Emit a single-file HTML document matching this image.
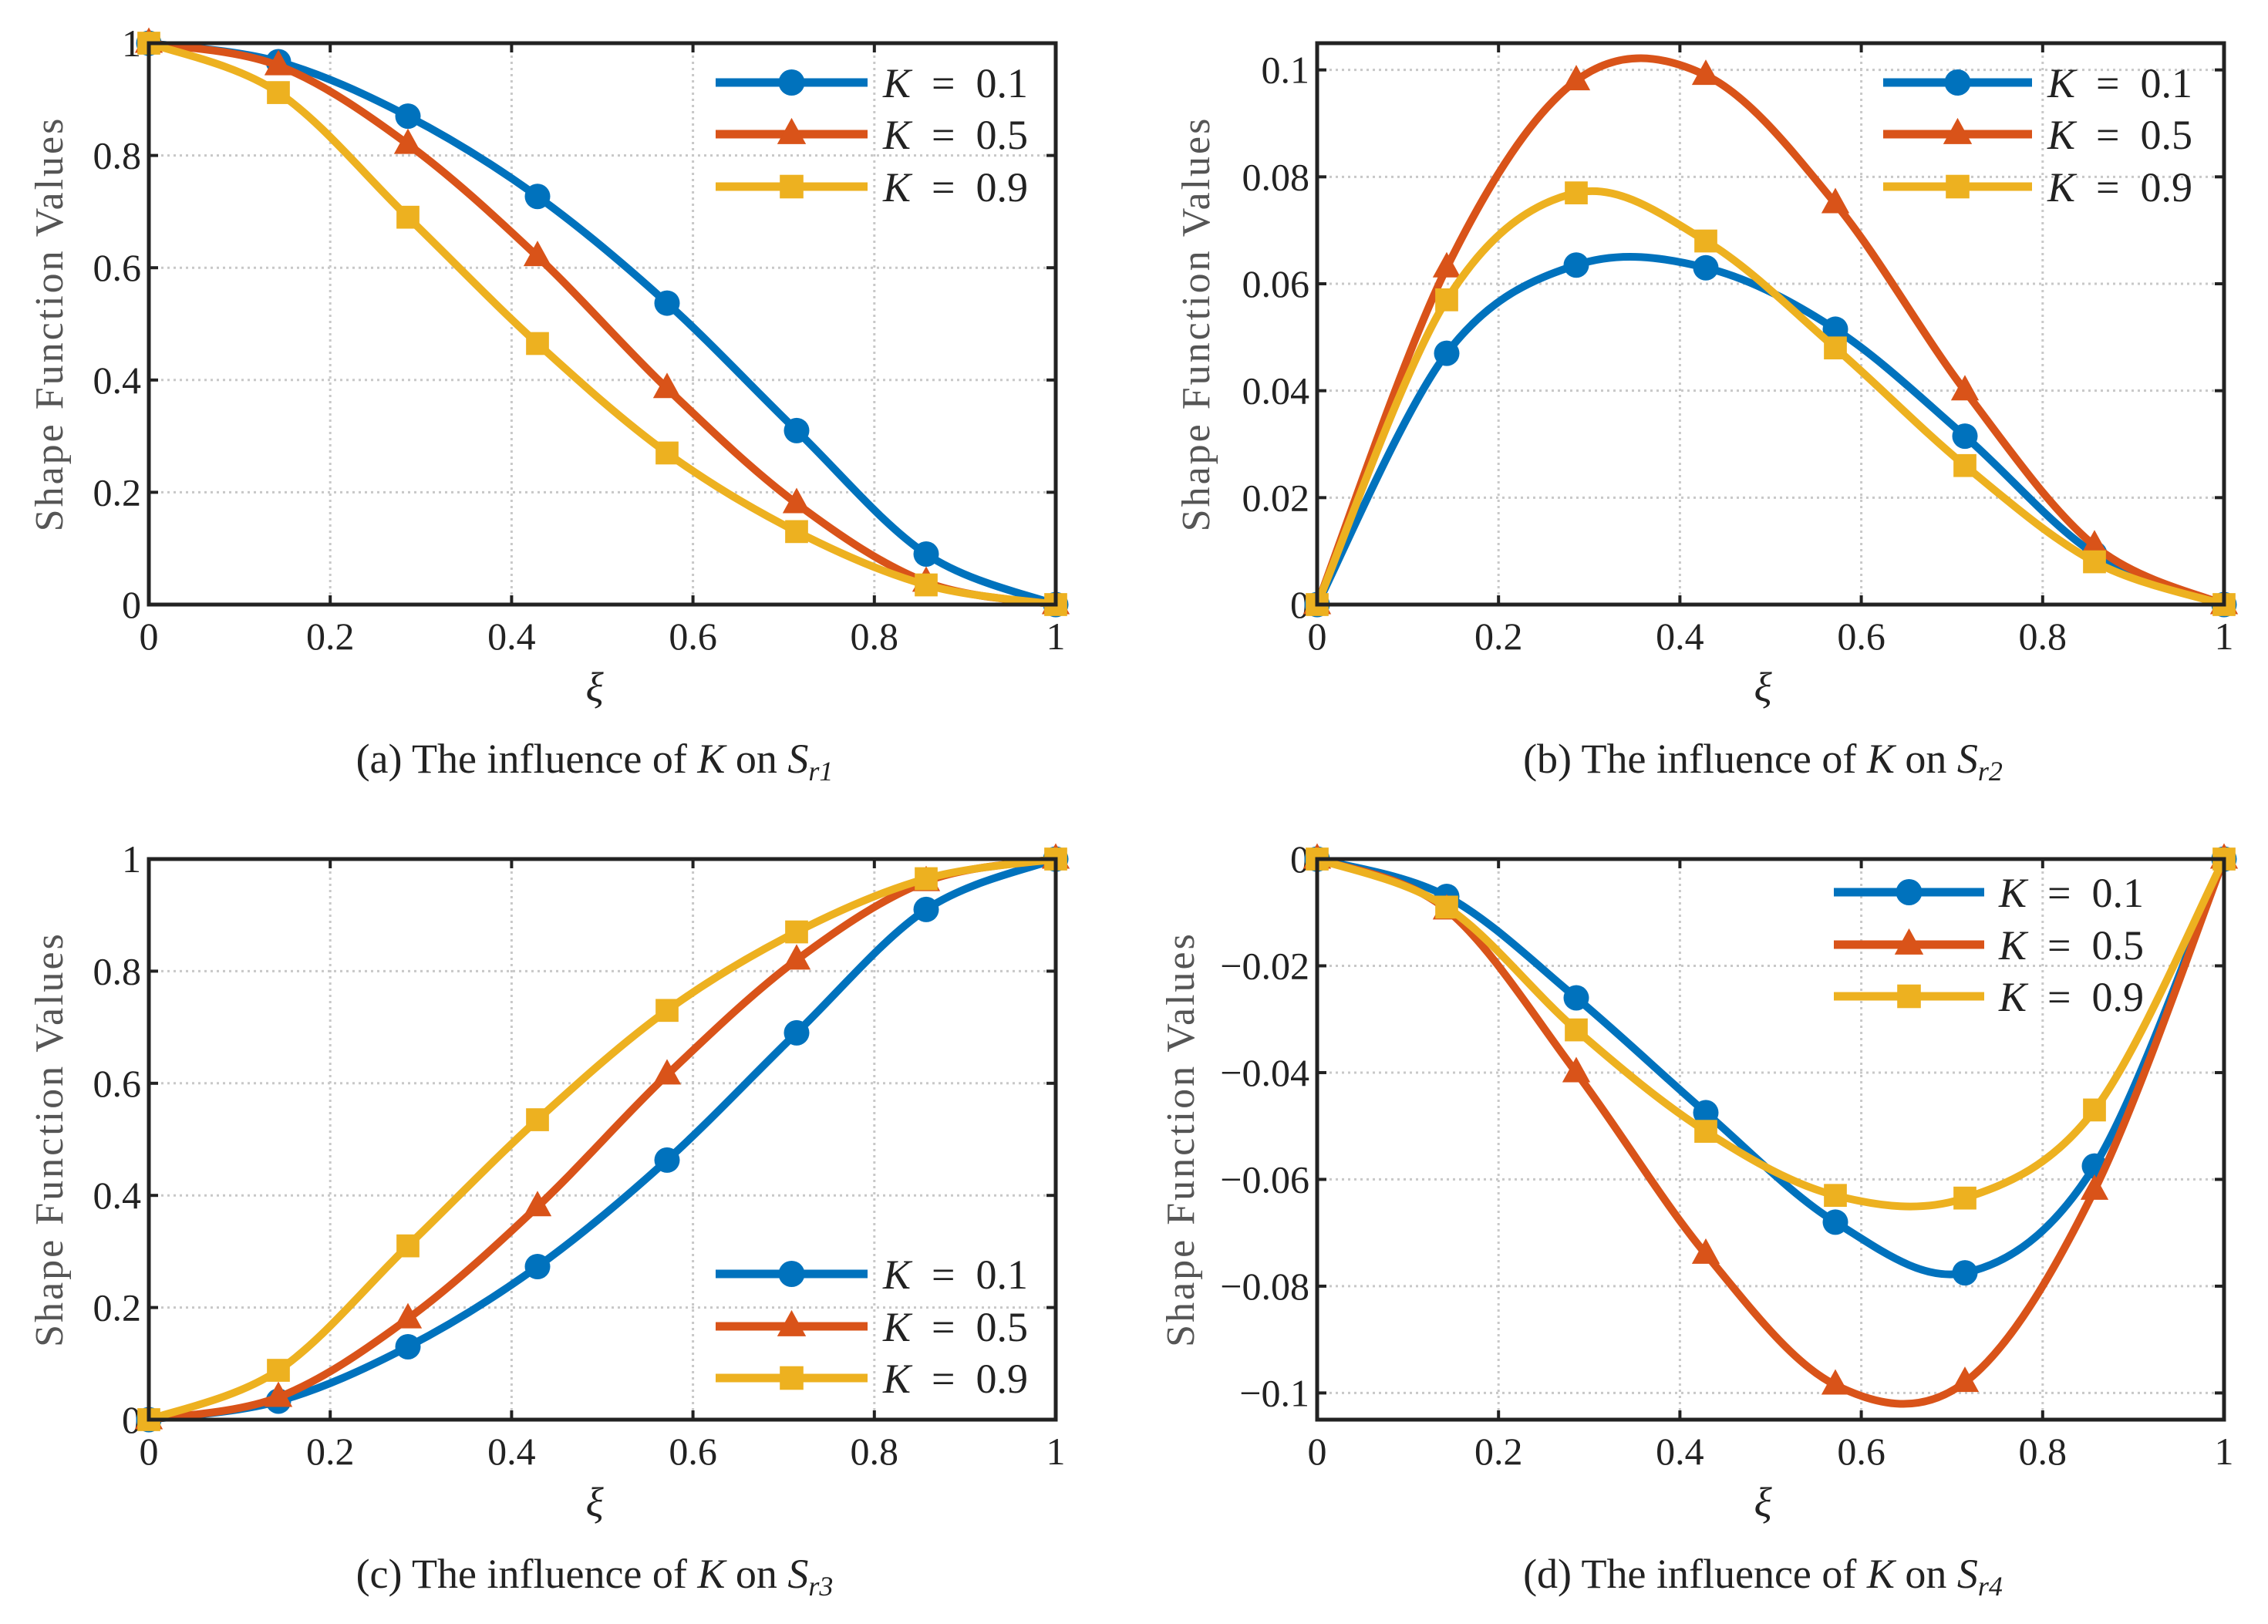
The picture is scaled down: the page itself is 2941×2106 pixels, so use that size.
<!DOCTYPE html>
<html><head><meta charset="utf-8"><style>
html,body{margin:0;padding:0;background:#fff;}
svg{display:block;}
text{font-family:"Liberation Serif","DejaVu Serif",serif;fill:#222;}
</style></head><body>
<svg id="fig" width="2941" height="2106" viewBox="0 0 2941 2106" xmlns="http://www.w3.org/2000/svg"></svg>
<script>
const xValues = [0, 1/7, 2/7, 3/7, 4/7, 5/7, 6/7, 1];
const seriesLabels = ["0.1", "0.5", "0.9"];
const a_k01 = [1, 0.967, 0.87, 0.727, 0.537, 0.31, 0.09, 0];
const a_k05 = [1, 0.96, 0.82, 0.62, 0.385, 0.18, 0.04, 0];
const a_k09 = [1, 0.912, 0.69, 0.465, 0.27, 0.13, 0.035, 0];
const b_k01 = [0, 0.047, 0.0635, 0.063, 0.0515, 0.0315, 0.0095, 0];
const b_k05 = [0, 0.063, 0.098, 0.099, 0.075, 0.040, 0.011, 0];
const b_k09 = [0, 0.057, 0.077, 0.068, 0.048, 0.026, 0.008, 0];
const c_k01 = [0, 0.033, 0.13, 0.273, 0.463, 0.69, 0.91, 1];
const c_k05 = [0, 0.04, 0.18, 0.38, 0.615, 0.82, 0.96, 1];
const c_k09 = [0, 0.088, 0.31, 0.535, 0.73, 0.87, 0.965, 1];
const d_k01 = [0, -0.007, -0.026, -0.0475, -0.068, -0.0775, -0.0575, 0];
const d_k05 = [0, -0.0095, -0.040, -0.074, -0.0985, -0.098, -0.062, 0];
const d_k09 = [0, -0.009, -0.032, -0.051, -0.063, -0.0635, -0.047, 0];
const xTicks = [0, 0.2, 0.4, 0.6, 0.8, 1];
const xTickLabels = ["0", "0.2", "0.4", "0.6", "0.8", "1"];
const ticks01 = [0, 0.2, 0.4, 0.6, 0.8, 1];
const labels01 = ["0", "0.2", "0.4", "0.6", "0.8", "1"];
const ticksB = [0, 0.02, 0.04, 0.06, 0.08, 0.1];
const labelsB = ["0", "0.02", "0.04", "0.06", "0.08", "0.1"];
const ticksD = [0, -0.02, -0.04, -0.06, -0.08, -0.1];
const labelsD = ["0", "\u22120.02", "\u22120.04", "\u22120.06", "\u22120.08", "\u22120.1"];

const NS = "http://www.w3.org/2000/svg";
const svg = document.getElementById("fig");
const colors = ["#0072BD", "#D95319", "#EDB120"];
const markers = ["circle", "triangle", "square"];
function mk(tag, attrs, parent) {
  const e = document.createElementNS(NS, tag);
  for (const k in attrs) e.setAttribute(k, attrs[k]);
  (parent || svg).appendChild(e);
  return e;
}
function marker(g, type, x, y, color, s) {
  let e;
  if (type === "circle") e = mk("circle", {cx: x, cy: y, r: s * 0.5, fill: color}, g);
  else if (type === "triangle") e = mk("polygon", {points: `${x},${y - s * 0.62} ${x - s * 0.55},${y + s * 0.38} ${x + s * 0.55},${y + s * 0.38}`, fill: color}, g);
  else e = mk("rect", {x: x - s * 0.45, y: y - s * 0.45, width: s * 0.9, height: s * 0.9, fill: color}, g);
  return e;
}
function splinePath(pts) {
  let d = `M${pts[0][0]},${pts[0][1]}`;
  for (let i = 0; i < pts.length - 1; i++) {
    const p0 = pts[Math.max(i - 1, 0)], p1 = pts[i], p2 = pts[i + 1], p3 = pts[Math.min(i + 2, pts.length - 1)];
    const c1 = [p1[0] + (p2[0] - p0[0]) / 6, p1[1] + (p2[1] - p0[1]) / 6];
    const c2 = [p2[0] - (p3[0] - p1[0]) / 6, p2[1] - (p3[1] - p1[1]) / 6];
    d += ` C${c1[0]},${c1[1]} ${c2[0]},${c2[1]} ${p2[0]},${p2[1]}`;
  }
  return d;
}
function panel(opt) {
  const g = mk("g", {});
  
  
  const L = opt.L, R = opt.R, T = opt.T, B = opt.B;
  const sx = v => L + (v - 0) / (1 - 0) * (R - L);
  const sy = v => B - (v - opt.ymin) / (opt.ymax - opt.ymin) * (B - T);
  const grid = mk("g", {stroke: "#c8c8c8", "stroke-width": 3, "stroke-dasharray": "3 5"}, g);
  
  
  xTicks.forEach(v => { if (v > 0 && v < 1) mk("line", {x1: sx(v), x2: sx(v), y1: T, y2: B}, grid); });
  opt.yt.forEach(v => { const y = sy(v); if (y > T + 3 && y < B - 3) mk("line", {x1: L, x2: R, y1: y, y2: y}, grid); });
  const tk = mk("g", {stroke: "#222", "stroke-width": 4}, g);
  xTicks.forEach(v => { mk("line", {x1: sx(v), x2: sx(v), y1: B, y2: B - 12}, tk); mk("line", {x1: sx(v), x2: sx(v), y1: T, y2: T + 12}, tk); });
  opt.yt.forEach(v => { mk("line", {x1: L, x2: L + 12, y1: sy(v), y2: sy(v)}, tk); mk("line", {x1: R, x2: R - 12, y1: sy(v), y2: sy(v)}, tk); });
  xTicks.forEach((v, i) => {
    const t = mk("text", {x: sx(v), y: B + 58, "text-anchor": "middle", "font-size": 50}, g);
    t.textContent = xTickLabels[i];
    
    
  });
  opt.yt.forEach((v, i) => {
    const t = mk("text", {x: L - 10, y: sy(v) + 17, "text-anchor": "end", "font-size": 50}, g);
    t.textContent = opt.yl[i];
    
    
  });
  opt.series.forEach((vals, si) => {
    const sg = mk("g", {}, g);
    
    
    const pts = vals.map((v, i) => [sx(xValues[i]), sy(v)]);
    mk("path", {d: splinePath(pts), fill: "none", stroke: colors[si], "stroke-width": 10, "stroke-linejoin": "round"}, sg);
    pts.forEach(p => {
      const m = marker(sg, markers[si], p[0], p[1], colors[si], 33);
      
      
    });
  });
  const box = mk("rect", {x: L, y: T, width: R - L, height: B - T, fill: "none", stroke: "#222", "stroke-width": 5}, g);
  
  
  const lg = mk("g", {}, g);
  
  
  opt.leg.ys.forEach((y, si) => {
    const e = mk("g", {}, lg);
    
    
    mk("line", {x1: opt.leg.x1, x2: opt.leg.x2, y1: y, y2: y, stroke: colors[si], "stroke-width": 11}, e);
    marker(e, markers[si], (opt.leg.x1 + opt.leg.x2) / 2, y, colors[si], 34);
    const t = mk("text", {x: opt.leg.tx, y: y + 19, "font-size": 54, "xml:space": "preserve"}, e);
    t.innerHTML = '<tspan font-style="italic">K</tspan>\u2002=\u2002' + seriesLabels[si];
  });
  const yl = mk("text", {x: 0, y: 0, "text-anchor": "middle", "font-size": 52, transform: `translate(${L - opt.yo},${(T + B) / 2}) rotate(-90)`, style: "fill:#555;letter-spacing:3px"}, g);
  yl.textContent = "Shape Function Values";
  
  
  const xl = mk("text", {x: (L + R) / 2 - 10, y: B + 125, "text-anchor": "middle", "font-size": 54, "font-style": "italic"}, g);
  xl.textContent = "ξ";
  
  
  const cap = mk("text", {x: (L + R) / 2 - 10, y: B + 218, "text-anchor": "middle", "font-size": 54}, g);
  cap.innerHTML = opt.cap + ' The influence of <tspan font-style="italic">K</tspan> on <tspan font-style="italic">S</tspan><tspan font-style="italic" font-size="36" dy="10">' + opt.sub + '</tspan>';
  
  
}
const legTop = [107, 174, 242];
panel({name: "panel-a", L: 193, R: 1369, T: 56, B: 784, ymin: 0, ymax: 1, yt: ticks01, yl: labels01, yo: 112,
  series: [a_k01, a_k05, a_k09], leg: {x1: 928, x2: 1125, tx: 1145, ys: legTop}, cap: "(a)", sub: "r1"});
panel({name: "panel-b", L: 1708, R: 2884, T: 56, B: 784, ymin: 0, ymax: 0.105, yt: ticksB, yl: labelsB, yo: 140,
  series: [b_k01, b_k05, b_k09], leg: {x1: 2442, x2: 2635, tx: 2655, ys: legTop}, cap: "(b)", sub: "r2"});
panel({name: "panel-c", L: 193, R: 1369, T: 1114, B: 1841, ymin: 0, ymax: 1, yt: ticks01, yl: labels01, yo: 112,
  series: [c_k01, c_k05, c_k09], leg: {x1: 928, x2: 1125, tx: 1145, ys: [1652, 1720, 1787]}, cap: "(c)", sub: "r3"});
panel({name: "panel-d", L: 1708, R: 2884, T: 1114, B: 1841, ymin: -0.105, ymax: 0, yt: ticksD, yl: labelsD, yo: 160,
  series: [d_k01, d_k05, d_k09], leg: {x1: 2378, x2: 2573, tx: 2592, ys: [1157, 1225, 1292]}, cap: "(d)", sub: "r4"});
</script>
</body></html>
